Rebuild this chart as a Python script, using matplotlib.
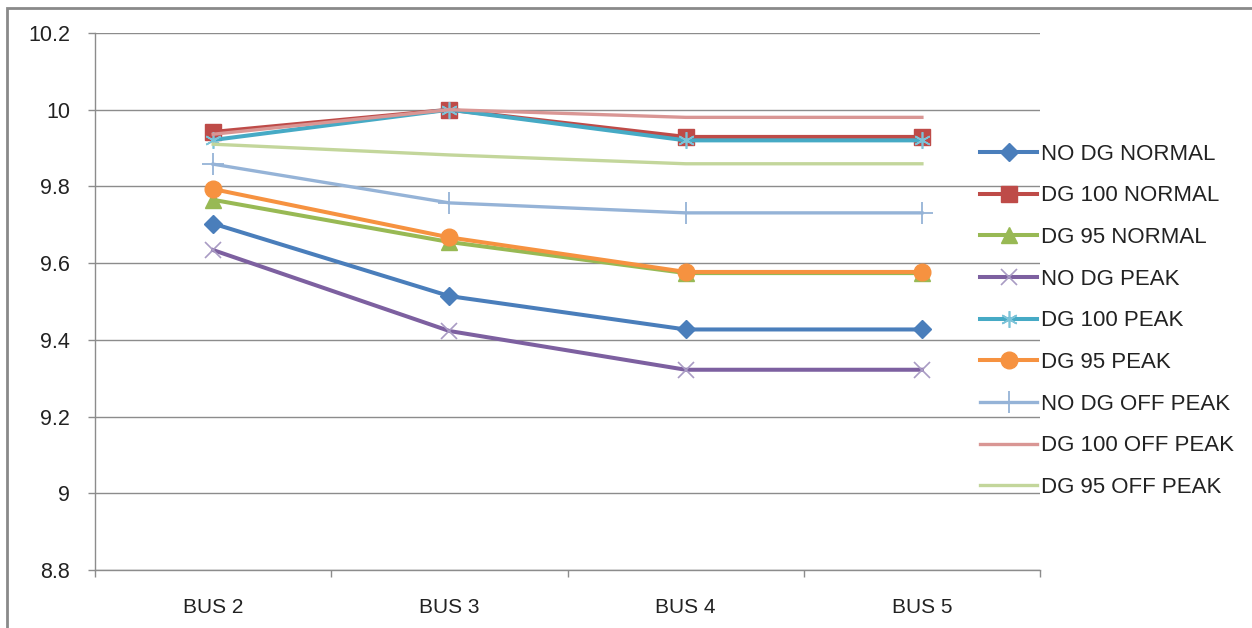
import matplotlib.pyplot as plt
from matplotlib.patches import Rectangle

buses = ['BUS 2', 'BUS 3', 'BUS 4', 'BUS 5']

# bus voltages for each case
no_dg_normal = [9.703, 9.514, 9.427, 9.427]
dg100_normal = [9.942, 10.0, 9.929, 9.929]
dg95_normal = [9.765, 9.655, 9.574, 9.574]
no_dg_peak = [9.634, 9.423, 9.322, 9.322]
dg100_peak = [9.921, 10.0, 9.920, 9.920]
dg95_peak = [9.793, 9.667, 9.577, 9.577]
no_dg_offpeak = [9.858, 9.757, 9.731, 9.731]
dg100_offpeak = [9.936, 10.0, 9.980, 9.980]
dg95_offpeak = [9.910, 9.882, 9.859, 9.859]

plt.rcParams['font.family'] = ['Liberation Sans', 'DejaVu Sans']

fig = plt.figure(figsize=(12.52, 6.28), dpi=100)
ax = fig.add_axes([0.0759, 0.0924, 0.7548, 0.8551])

x = list(range(len(buses)))
lw = 2.9
ax.plot(x, no_dg_normal, color='#4A7EBB', lw=lw, marker='D', ms=9, label='NO DG NORMAL')
ax.plot(x, dg100_normal, color='#BE4B48', lw=lw, marker='s', ms=11, label='DG 100 NORMAL')
ax.plot(x, dg95_normal, color='#98B954', lw=lw, marker='^', ms=11, label='DG 95 NORMAL')
ax.plot(x, no_dg_peak, color='#7D60A0', lw=lw, marker='x', ms=12, mew=1.2,
        mec='#A99BC4', label='NO DG PEAK')
ax.plot(x, dg100_peak, color='#46AAC5', lw=lw, marker=(6, 2, 0), ms=12, mew=1.2,
        mec='#7CC3D8', label='DG 100 PEAK')
ax.plot(x, dg95_peak, color='#F69240', lw=lw, marker='o', ms=12, label='DG 95 PEAK')
ax.plot(x, no_dg_offpeak, color='#95B3D7', lw=2.4, marker='|', ms=16, mew=1.3,
        label='NO DG OFF PEAK')
ax.plot(x, no_dg_offpeak, color='#95B3D7', lw=0, marker='_', ms=16, mew=1.3)
ax.plot(x, dg100_offpeak, color='#D99694', lw=2.4, label='DG 100 OFF PEAK')
ax.plot(x, dg95_offpeak, color='#C3D69B', lw=2.4, label='DG 95 OFF PEAK')

ax.set_xlim(-0.5, 3.5)
ax.set_ylim(8.8, 10.2)
ax.set_yticks([8.8, 9.0, 9.2, 9.4, 9.6, 9.8, 10.0, 10.2])
ax.set_yticklabels(['8.8', '9', '9.2', '9.4', '9.6', '9.8', '10', '10.2'])
ax.set_xticks(x)
ax.set_xticklabels(buses)
ax.set_xticks([-0.5, 0.5, 1.5, 2.5, 3.5], minor=True)

ax.grid(axis='y', color='#8C8C8C', lw=1.0)
ax.set_axisbelow(True)
for side in ['top', 'right']:
    ax.spines[side].set_visible(False)
for side in ['left', 'bottom']:
    ax.spines[side].set_color('#8C8C8C')
    ax.spines[side].set_linewidth(1.0)

ax.tick_params(axis='y', length=5, width=1, color='#8C8C8C', pad=13,
               labelsize=15.5, labelcolor='#222222')
ax.tick_params(axis='x', which='major', length=0, pad=20,
               labelsize=15, labelcolor='#222222')
ax.tick_params(axis='x', which='minor', length=5, width=1, color='#8C8C8C')

handles, labels = ax.get_legend_handles_labels()
ax.legend(handles, labels, loc='center left', bbox_to_anchor=(0.767, 0.489),
          bbox_transform=fig.transFigure, frameon=False, fontsize=16,
          handlelength=2.57, handletextpad=0.15, labelspacing=0.93,
          labelcolor='#222222')

# outer chart border
fig.patches.append(Rectangle((0.0056, -0.05), 1.05, 0.9870 + 0.05,
                             transform=fig.transFigure, fill=False,
                             edgecolor='#8A8A8A', lw=2.0))

fig.savefig('out.png', dpi=100)
